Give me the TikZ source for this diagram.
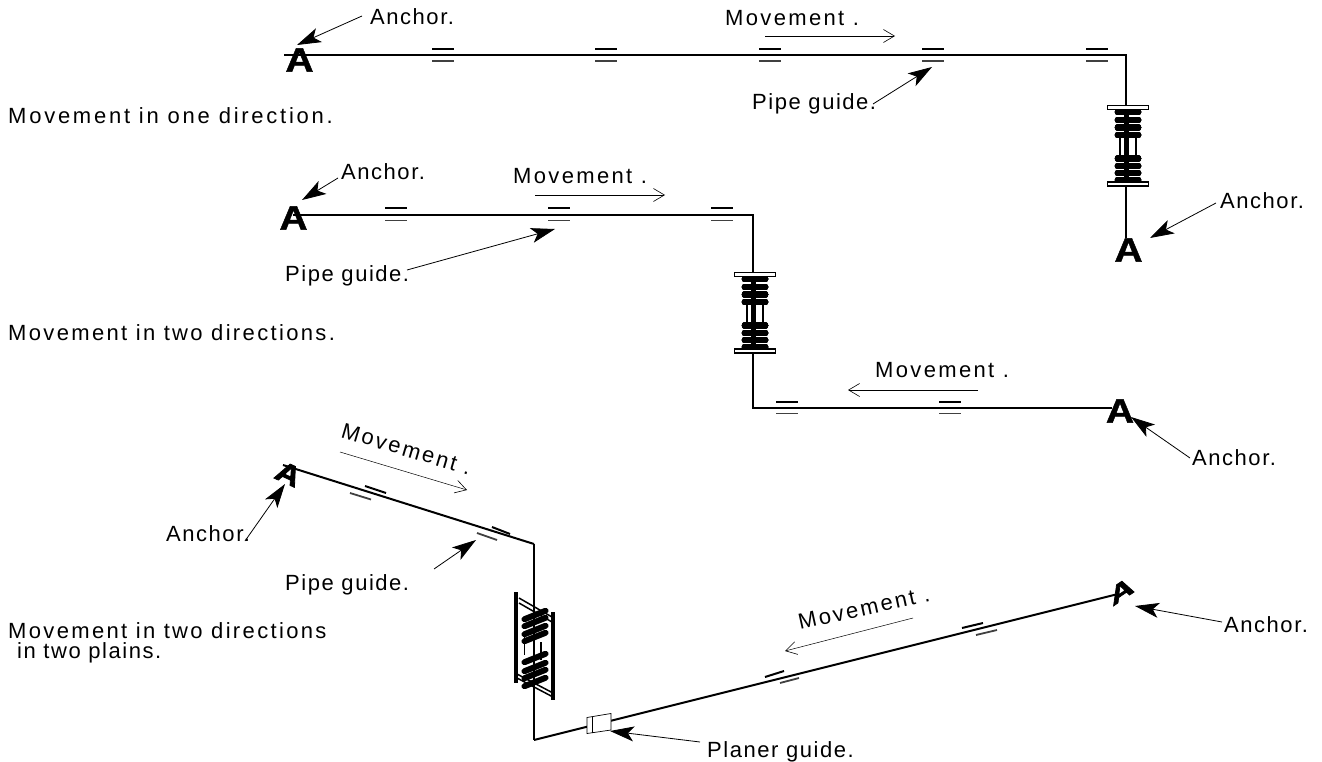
\documentclass[tikz,border=0pt]{standalone}
\usepackage{fontspec}
\setmainfont{Liberation Sans}
\usetikzlibrary{arrows.meta}
\newfontfamily\lblfont[LetterSpace=10.7]{Liberation Sans}
\newfontfamily\lblbfont[LetterSpace=7]{Liberation Sans}
\newfontfamily\lblcfont[LetterSpace=12.5]{Liberation Sans}
\newfontfamily\afont[FakeBold=1.2]{Liberation Sans Bold}
\newfontfamily\afontb[FakeBold=2.4]{Liberation Sans Bold}
\tikzset{
  x=1pt,y=-1pt,
  lbl/.style={inner sep=0pt,anchor=base west,font=\fontsize{22}{24}\selectfont\lblfont},
  lblb/.style={inner sep=0pt,anchor=base west,font=\fontsize{22}{24}\selectfont\lblbfont},
  lblc/.style={inner sep=0pt,anchor=base west,font=\fontsize{22}{24}\selectfont\lblcfont},
  anch/.style={inner sep=0pt,font=\fontsize{34}{34}\selectfont\afont,text=black},
  anchb/.style={inner sep=0pt,font=\fontsize{34}{34}\selectfont\afontb,text=black},
  pipe/.style={line width=2pt,black},
  guide/.style={line width=2pt,black},
  guidelo/.style={line width=1.8pt,black!75},
  point/.style={line width=0.8pt,-{Stealth[length=24pt,width=15pt,inset=6pt]}},
  move/.style={line width=0.5pt,-{Straight Barb[length=11pt,width=13pt,line width=0.6pt]}},
  coil/.style={line width=6.5pt,line cap=round,black},
  rod/.style={line width=1.6pt,black},
  flange/.style={draw=black,fill=white,line width=1.6pt},
}
% horizontal pipe guide
\newcommand{\hguide}[2]{%
  \draw[guide] (#1-11,#2-6.5) -- (#1+11,#2-6.5);
  \draw[guidelo] (#1-11,#2+5.5) -- (#1+11,#2+5.5);}
% straight bellows, centred on #1,#2
\newcommand{\bellows}[2]{%
  \begin{scope}[shift={(#1,#2)}]
    \foreach \yy in {-33.5,-25.5,-18,-10.5,13,20.5,27.5,34.5}
      \draw[coil] (-10,\yy) -- (10,\yy);
    \draw[rod] (-8,-8) -- (-8,10);
    \draw[rod] (8,-8) -- (8,10);
    \draw[line width=5pt] (-2,-38) -- (-2,38);
    \draw[flange] (-20.5,-40) rectangle (20.5,-36);
    \draw[flange] (-20.5,36.5) rectangle (20.5,40.5);
  \end{scope}}
% upright anchor letter
\newcommand{\upA}{\scalebox{1.15}[1]{A}}
\begin{document}
\begin{tikzpicture}
\useasboundingbox (0,0) rectangle (1322,762);
\fill[white] (0,0) rectangle (1322,762);

% ---- labels
\node[lblc] (c1) at (8,124) {Movement in one direction.};
\node[lbl] (c2) at (8,340.5) {Movement in two directions.};
\node[lbl] (c3) at (8,638) {Movement in two directions};
\node[lblb] (c4) at (17,658.5) {in two plains.};
\node[lblb] (t1) at (370,25) {Anchor.};
\node[lbl] (t2) at (725,25.5) {Movement .};
\node[lblb] (t3) at (752,110) {Pipe guide.};
\node[lblb] (t4) at (1220,208) {Anchor.};
\node[lblb] (t5) at (341,180) {Anchor.};
\node[lbl] (t6) at (513,184) {Movement .};
\node[lblb] (t7) at (285,281) {Pipe guide.};
\node[lbl] (t8) at (875,377) {Movement .};
\node[lblb] (t9) at (1192,465) {Anchor.};
\node[lbl,rotate=-16.5] (t10) at (340,437) {Movement .};
\node[lblb] (t11) at (166,541) {Anchor.};
\node[lblb] (t12) at (285,590) {Pipe guide.};
\node[lbl,rotate=12.5] (t13) at (800,630) {Movement .};
\node[lblb] (t14) at (1224,632) {Anchor.};
\node[lblb] (t15) at (707,757.5) {Planer guide.};

% ---- first run
\coordinate (p1s) at (284,55.5); \coordinate (p1c) at (1126,55.5); \coordinate (p1e) at (1126,238);
\draw[pipe] (p1s) -- (p1c) -- (p1e);
\foreach \xx in {443,606,770,933,1097} \hguide{\xx}{55.5}
\bellows{1128}{145.5}
\coordinate (q1) at (362,16); \coordinate (q1t) at (297,45);
\coordinate (q2) at (765,36); \coordinate (q2t) at (895,36);
\coordinate (q3) at (873,104); \coordinate (q3t) at (932,67);
\coordinate (q4) at (1216,203); \coordinate (q4t) at (1150,238);
\draw[point] (q1) -- (q1t);
\draw[move] (q2) -- (q2t);
\draw[point] (q3) -- (q3t);
\draw[point] (q4) -- (q4t);

% ---- second run
\coordinate (p2s) at (293,215); \coordinate (p2c) at (753,215); \coordinate (p2d) at (753,408); \coordinate (p2e) at (1112,408);
\draw[pipe] (p2s) -- (p2c) -- (p2d) -- (p2e);
\foreach \xx in {396,559,722} \hguide{\xx}{215}
\foreach \xx in {787,950} \hguide{\xx}{408}
\bellows{755}{312.5}
\coordinate (q5) at (338,178); \coordinate (q5t) at (302,200);
\coordinate (q6) at (535,195); \coordinate (q6t) at (665,195);
\coordinate (q7) at (407,270); \coordinate (q7t) at (555,229);
\coordinate (q8) at (978,390); \coordinate (q8t) at (848,390);
\coordinate (q9) at (1190,458); \coordinate (q9t) at (1131,417);
\draw[point] (q5) -- (q5t);
\draw[move] (q6) -- (q6t);
\draw[point] (q7) -- (q7t);
\draw[move] (q8) -- (q8t);
\draw[point] (q9) -- (q9t);

% ---- third run
\coordinate (p3s) at (283,465); \coordinate (p3c) at (534,544); \coordinate (p3d) at (534,740); \coordinate (p3e) at (1118,594);
\draw[pipe] (p3s) -- (p3c);
\draw[line width=1.5pt] (p3c) -- (p3d);
\draw[pipe] (p3d) -- (p3e);
% skewed guides
\draw[guide] (365,486) -- (386,493);
\draw[guidelo] (350,493) -- (371,499.5);
\draw[guide] (492,527) -- (510,534);
\draw[guidelo] (477,533) -- (497,540);
\draw[guide] (765,677) -- (784,671);
\draw[guidelo] (780,683) -- (799,678);
\draw[guide] (962,628) -- (983,623);
\draw[guidelo] (976,635) -- (997,630);
% skewed bellows
\begin{scope}[shift={(535,645)},yslant=0.4]
  \foreach \yy in {-30,-23,-15,-8,13,22,29,37}
    \draw[line width=6pt,line cap=round] (-10.5,\yy) -- (10.5,\yy);
\end{scope}
\draw[rod] (524.5,633) -- (524.5,655);
\draw[rod] (541,642) -- (541,660);
\begin{scope}[line width=1.5pt]
  \draw (519,598) -- (552,617);
  \draw (519,603) -- (552,622);
  \draw (517,674) -- (553,693);
  \draw (517,678) -- (553,697);
\end{scope}
\draw[line width=3.5pt] (516,592) -- (516,683);
\draw[line width=3.5pt] (553,612) -- (553,700);
% planer guide
\coordinate (g1) at (587,717.5); \coordinate (g2) at (611,713.5); \coordinate (g3) at (611,730); \coordinate (g4) at (587,733.5);
\draw[fill=white,line width=0.7pt] (g1) -- (g2) -- (g3) -- (g4) -- cycle;
\coordinate (g5) at (592,716.5); \coordinate (g6) at (592,732.5);
\draw[line width=0.5pt] (g5) -- (g6);
\coordinate (q10) at (340,452); \coordinate (q10t) at (467,490);
\coordinate (q11) at (245,541); \coordinate (q11t) at (285,484);
\coordinate (q12) at (434,569); \coordinate (q12t) at (476,540);
\coordinate (q13) at (913,618); \coordinate (q13t) at (785,651);
\coordinate (q14) at (1222,622); \coordinate (q14t) at (1135,606);
\coordinate (q15) at (700,742); \coordinate (q15t) at (610,731);
\draw[move] (q10) -- (q10t);
\draw[point] (q11) -- (q11t);
\draw[point] (q12) -- (q12t);
\draw[move] (q13) -- (q13t);
\draw[point] (q14) -- (q14t);
\draw[point] (q15) -- (q15t);

% ---- anchor letters
\node[anch] (a1) at (299.5,60) {\upA};
\node[anch] (a2) at (1128.5,250) {\upA};
\node[anch] (a3) at (293.5,218) {\upA};
\node[anch] (a4) at (1120,411) {\upA};
\begin{scope}[shift={(288.5,474)}]
  \node[anchb,transform shape,cm={.9,-.41,.37,.75,(0,0)}] (a5) at (0,0) {A};
\end{scope}
\begin{scope}[shift={(1121.5,591)}]
  \node[anchb,transform shape,cm={.9,.61,-.2,.69,(0,0)}] (a6) at (0,0) {A};
\end{scope}
\end{tikzpicture}
\end{document}
